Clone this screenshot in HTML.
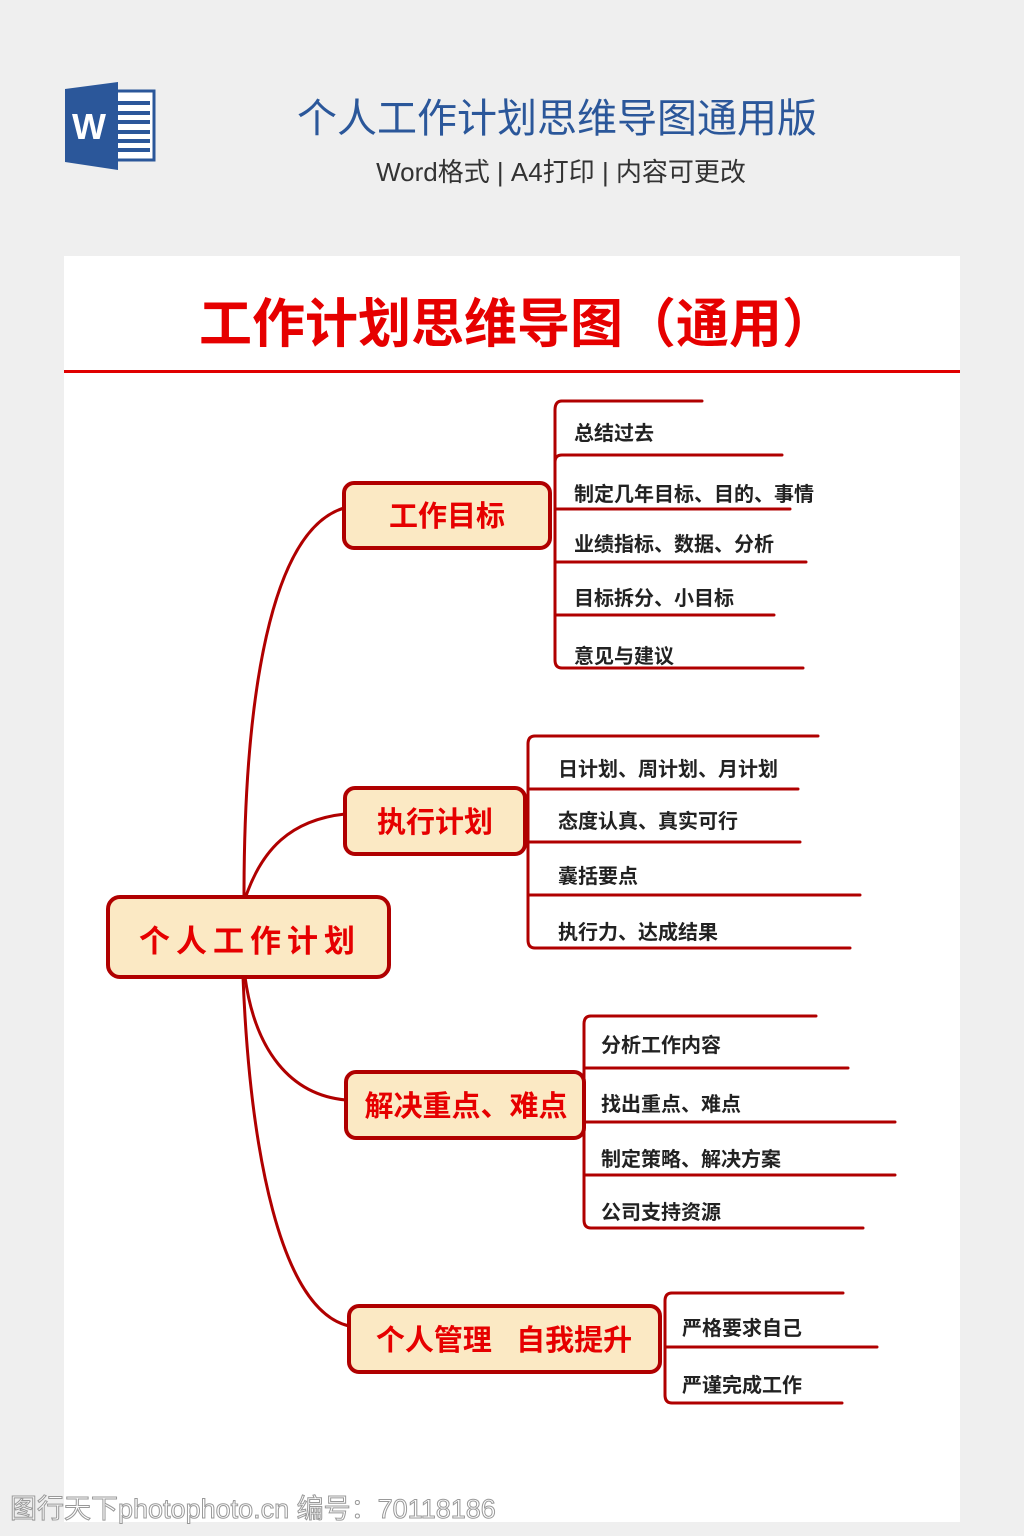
<!DOCTYPE html>
<html><head><meta charset="utf-8"><style>
html,body{margin:0;padding:0;background:#efefef;}
svg{display:block;}
text{font-family:"Liberation Sans","Noto Sans CJK SC",sans-serif;}
</style></head><body>
<svg width="1024" height="1536" viewBox="0 0 1024 1536" xmlns="http://www.w3.org/2000/svg">
<rect width="1024" height="1536" fill="#efefef"/>
<rect x="116" y="91" width="38" height="69" fill="#fff" stroke="#2b579a" stroke-width="3"/>
<g fill="#2b579a"><rect x="118" y="101" width="32" height="4"/><rect x="118" y="111" width="32" height="4"/><rect x="118" y="120" width="32" height="4"/><rect x="118" y="130" width="32" height="4"/><rect x="118" y="139" width="32" height="4"/><rect x="118" y="148" width="32" height="4"/></g>
<polygon points="65,89 118,82 118,170 65,162" fill="#2b579a"/>
<text x="89" y="139" font-size="36" font-weight="bold" fill="#fff" text-anchor="middle">W</text>
<text x="557" y="132" font-size="40" fill="#2b579a" text-anchor="middle">个人工作计划思维导图通用版</text>
<text x="561" y="181" font-size="26" fill="#333" text-anchor="middle">Word格式 | A4打印 | 内容可更改</text>
<rect x="64" y="256" width="896" height="1266" fill="#fff"/>
<text x="517" y="342" font-size="53" font-weight="bold" fill="#e60000" text-anchor="middle">工作计划思维导图（通用）</text>
<rect x="64" y="370" width="896" height="3" fill="#e00000"/>
<g fill="none" stroke="#b00000" stroke-width="3" stroke-linecap="round">
<path d="M244,896 C244,700 270,530 344,508"/>
<path d="M246,896 C262,850 290,820 345,814"/>
<path d="M245,977 C255,1050 290,1095 346,1100"/>
<path d="M243,977 C250,1150 280,1310 349,1326"/>
<path d="M562,401 Q555,401 555,410 V660 Q555,668 562,668 H803"/>
<path d="M562,401 H702 M555,462 Q555,455 562,455 H782 M555,509 H790 M555,562 H806 M555,615 H774"/>
<path d="M535,736 Q528,736 528,744 V940 Q528,948 535,948 H850"/>
<path d="M535,736 H818 M528,789 H798 M528,842 H800 M528,895 H860"/>
<path d="M591,1016 Q584,1016 584,1024 V1220 Q584,1228 591,1228 H863"/>
<path d="M591,1016 H816 M584,1068 H848 M584,1122 H895 M584,1175 H895"/>
<path d="M672,1293 Q665,1293 665,1301 V1395 Q665,1403 672,1403 H842"/>
<path d="M672,1293 H843 M665,1347 H877"/>
</g>
<g fill="#fbe9c4" stroke="#b00000" stroke-width="4">
<rect x="108" y="897" width="281" height="80" rx="12"/>
<rect x="344" y="483" width="206" height="65" rx="10"/>
<rect x="345" y="788" width="180" height="66" rx="10"/>
<rect x="346" y="1072" width="238" height="66" rx="10"/>
<rect x="349" y="1306" width="311" height="66" rx="10"/>
</g>
<g fill="#e60000" font-weight="bold" text-anchor="middle">
<text x="250" y="952" font-size="31" letter-spacing="6">个人工作计划</text>
<text x="447" y="526" font-size="29">工作目标</text>
<text x="435" y="832" font-size="29">执行计划</text>
<text x="466" y="1116" font-size="29">解决重点、难点</text>
<text x="504" y="1350" font-size="29" xml:space="preserve">个人管理   自我提升</text>
</g>
<g fill="#222" font-size="20" font-weight="bold">
<text x="574" y="440">总结过去</text>
<text x="574" y="501">制定几年目标、目的、事情</text>
<text x="574" y="551">业绩指标、数据、分析</text>
<text x="574" y="605">目标拆分、小目标</text>
<text x="574" y="663">意见与建议</text>
<text x="558" y="776">日计划、周计划、月计划</text>
<text x="558" y="828">态度认真、真实可行</text>
<text x="558" y="883">囊括要点</text>
<text x="558" y="939">执行力、达成结果</text>
<text x="601" y="1052">分析工作内容</text>
<text x="601" y="1111">找出重点、难点</text>
<text x="601" y="1166">制定策略、解决方案</text>
<text x="601" y="1219">公司支持资源</text>
<text x="682" y="1335">严格要求自己</text>
<text x="682" y="1392">严谨完成工作</text>
</g>
<text x="10" y="1518" font-size="27" fill="#fff" stroke="#999" stroke-width="1">图行天下photophoto.cn 编号：70118186</text>
</svg>
</body></html>
